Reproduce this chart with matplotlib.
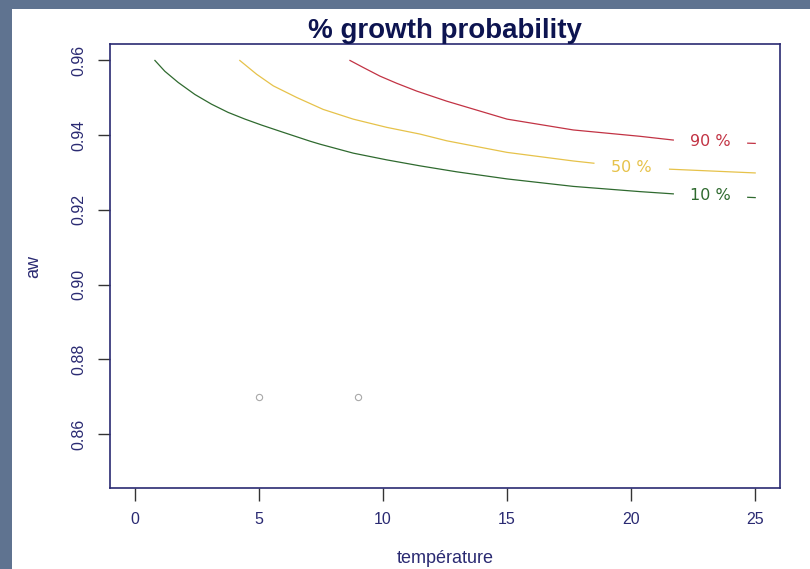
import numpy as np
import matplotlib
matplotlib.use("Agg")
import matplotlib.pyplot as plt
from matplotlib.patches import Rectangle

# === data ===
temp_10 = [0.81, 1.21, 1.75, 2.42, 3.09, 3.76, 4.44, 5.11, 5.92, 7.06, 7.46, 8.80, 10.15, 11.49,
           12.97, 15.0, 17.67, 20.36, 21.7, 23.2, 25.0]
aw_10 = [0.960, 0.9571, 0.9541, 0.9509, 0.9483, 0.9461, 0.9443, 0.9427, 0.9409, 0.9384, 0.9376,
         0.9352, 0.9334, 0.9318, 0.9302, 0.9283, 0.9263, 0.9249, 0.9243, 0.9238, 0.9233]

temp_50 = [4.23, 4.91, 5.58, 6.52, 7.59, 8.80, 10.15, 11.49, 12.57, 15.0, 17.67, 18.5, 20.0, 21.57, 25.0]
aw_50 = [0.960, 0.9563, 0.9532, 0.9501, 0.9469, 0.9443, 0.9421, 0.9403, 0.9385, 0.9354, 0.9331,
         0.9325, 0.9314, 0.9309, 0.9299]

temp_90 = [8.67, 9.21, 9.88, 10.55, 11.36, 12.57, 15.0, 17.67, 20.36, 21.7, 23.2, 25.0]
aw_90 = [0.960, 0.9581, 0.9558, 0.9539, 0.9518, 0.9491, 0.9443, 0.9414, 0.9397, 0.9387, 0.9382, 0.9378]

levels = ["10 %", "50 %", "90 %"]
obs_temp = [5, 9]
obs_aw = [0.87, 0.87]

x_ticks = [0, 5, 10, 15, 20, 25]
y_ticks = [0.86, 0.88, 0.90, 0.92, 0.94, 0.96]

# === style ===
navy = "#2a2a72"
tick_font = ["Liberation Sans Narrow", "Liberation Sans", "DejaVu Sans"]
curves = [
    (temp_10, aw_10, levels[0], "#2f6a2f", (21.7, 24.7)),
    (temp_50, aw_50, levels[1], "#e6c24a", (18.5, 21.55)),
    (temp_90, aw_90, levels[2], "#c23344", (21.7, 24.7)),
]

fig = plt.figure(figsize=(8.1, 5.69), dpi=100, facecolor="#5f7390")
fig.patches.append(Rectangle((12 / 810, 0), 1, 1 - 9 / 569, transform=fig.transFigure,
                             facecolor="white", edgecolor="none", zorder=-10))
ax = fig.add_axes([110 / 810, 81 / 569, 670 / 810, 444 / 569])
ax.set_facecolor("white")

# contour lines, broken where the level label sits
for xs, ys, lab, col, gap in curves:
    xs = np.array(xs)
    ys = np.array(ys)
    lo, hi = gap
    y_lo = np.interp(lo, xs, ys)
    y_hi = np.interp(hi, xs, ys)
    left = xs < lo
    right = xs > hi
    ax.plot(np.r_[xs[left], lo], np.r_[ys[left], y_lo], color=col, lw=0.9)
    ax.plot(np.r_[hi, xs[right]], np.r_[y_hi, ys[right]], color=col, lw=0.9)
    mid = (lo + hi) / 2
    ax.text(mid, np.interp(mid, xs, ys), lab, color=col, fontsize=11.5,
            ha="center", va="center", family=["DejaVu Sans"])

ax.plot(obs_temp, obs_aw, "o", mfc="none", mec="#a8a8a8", ms=4.5, mew=0.8)

ax.set_xlim(-1, 26)
ax.set_ylim(0.8456, 0.9644)
ax.set_xticks(x_ticks)
ax.set_yticks(y_ticks)
ax.set_xticklabels([str(t) for t in x_ticks], family=tick_font, fontsize=11.5, color=navy)
ax.set_yticklabels([f"{t:.2f}" for t in y_ticks], family=tick_font, fontsize=11.5,
                   color=navy, rotation=90, va="center")
ax.tick_params(direction="out", length=9, width=1, color="#333333", pad=8)
for sp in ax.spines.values():
    sp.set_color(navy)
    sp.set_linewidth(1.2)

ax.set_xlabel("température", family=tick_font, fontsize=13, color=navy, labelpad=17)
ax.set_ylabel("aw", family=tick_font, fontsize=13, color=navy, labelpad=21)
ax.set_title("% growth probability", fontsize=20, fontweight="bold", color="#0d1450",
             family=["Liberation Sans", "DejaVu Sans"], pad=4)

fig.savefig("out.png", dpi=100, facecolor=fig.get_facecolor())
